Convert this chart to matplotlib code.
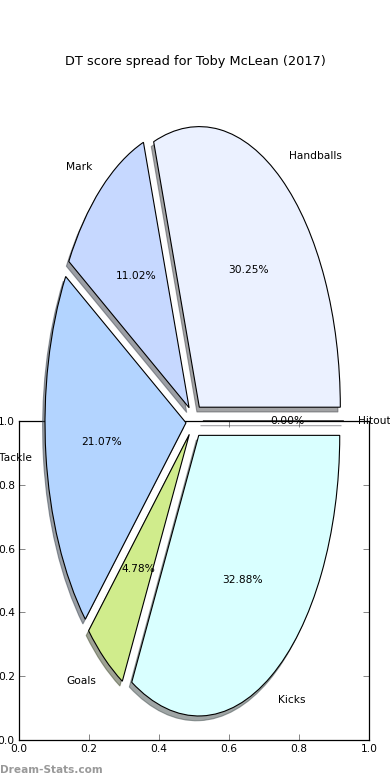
import matplotlib
matplotlib.use("Agg")
import matplotlib.pyplot as plt

# ---- data ----
categories = ["Handballs", "Mark", "Tackle", "Goals", "Kicks", "Hitout"]
values = [30.25, 11.02, 21.07, 4.78, 32.88, 0.0]
colors = ["#EBF1FF", "#C6D8FF", "#B3D4FF", "#D0EC8C", "#D9FFFF", "#E0E0FF"]
title = "DT score spread for Toby McLean (2017)"
frame_ticks = [0.0, 0.2, 0.4, 0.6, 0.8, 1.0]
frame_ticklabels = ["0.0", "0.2", "0.4", "0.6", "0.8", "1.0"]

DPI = 100
W, H = 390, 780
fig = plt.figure(figsize=(W / DPI, H / DPI), dpi=DPI)
fig.patch.set_facecolor("white")

FS = 7.7

# frame axes (empty 0..1 axes drawn beneath the pie)
axf = fig.add_axes([19 / W, 40 / H, 350 / W, 319 / H])
axf.set_xlim(0, 1)
axf.set_ylim(0, 1)
axf.set_xticks(frame_ticks)
axf.set_yticks(frame_ticks)
axf.set_xticklabels(frame_ticklabels)
axf.set_yticklabels(frame_ticklabels)
axf.tick_params(direction="in", length=4, width=0.5, top=True, right=True,
                labelsize=FS, pad=3, color="#555555")
for s in axf.spines.values():
    s.set_linewidth(0.9)

# pie axes spanning whole figure, transparent
axp = fig.add_axes([0, 0, 1, 1])
axp.patch.set_alpha(0)
d = 0.017
axp.pie(values, labels=categories, colors=colors,
        explode=[0.06] * len(values), autopct="%.2f%%",
        startangle=0, counterclock=True, labeldistance=1.1,
        pctdistance=0.6,
        shadow={"ox": -d * 72 / DPI, "oy": -d * 72 / DPI},
        wedgeprops={"edgecolor": "black", "linewidth": 0.8},
        textprops={"fontsize": FS, "color": "black"})
cx, cy, rx, ry = 194.4, 420.9, 141.0, 280.6
axp.set_aspect("auto")
axp.set_xlim(-cx / rx, (W - cx) / rx)
axp.set_ylim((cy - H) / ry, cy / ry)
axp.set_axis_off()

fig.text(195 / W, 1 - 61 / H, title, ha="center", va="center", fontsize=9.25)
fig.text(0 / W, 1 - 770 / H, "Dream-Stats.com", ha="left", va="center",
         fontsize=7.6, fontweight="bold", color="#999999")

fig.savefig("out.png", dpi=DPI, facecolor="white")
